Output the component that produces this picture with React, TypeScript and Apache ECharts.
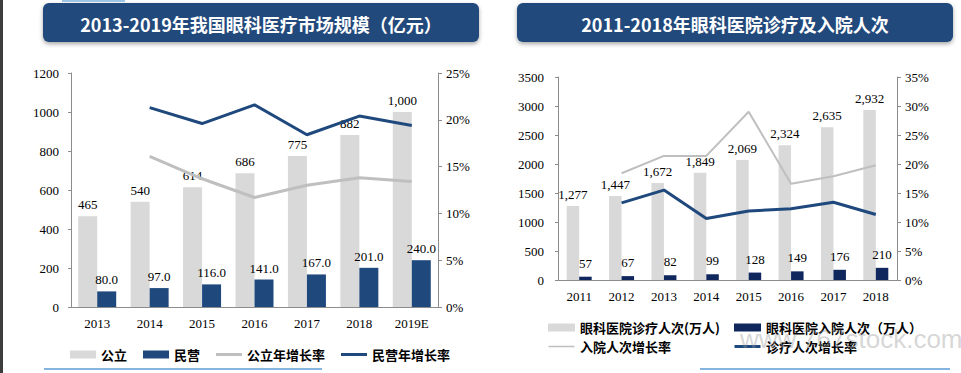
import React, { useEffect, useRef } from "react";
import * as echarts from "echarts";

const leftYears = ["2013", "2014", "2015", "2016", "2017", "2018", "2019E"];
const publicSize = [465, 540, 614, 686, 775, 882, 1000];
const privateSize = [80, 97, 116, 141, 167, 201, 240];
const publicGrowth = [null, 16.1, 13.7, 11.7, 13.0, 13.8, 13.4];
const privateGrowth = [null, 21.3, 19.6, 21.6, 18.4, 20.4, 19.4];

const rightYears = ["2011", "2012", "2013", "2014", "2015", "2016", "2017", "2018"];
const visits = [1277, 1447, 1672, 1849, 2069, 2324, 2635, 2932];
const admissions = [57, 67, 82, 99, 128, 149, 176, 210];
const admissionGrowth = [null, 18.4, 21.4, 21.4, 29.0, 16.6, 17.9, 19.8];
const visitGrowth = [null, 13.3, 15.5, 10.6, 11.9, 12.3, 13.4, 11.3];

const leftTitle = "2013-2019年我国眼科医疗市场规模（亿元）";
const rightTitle = "2011-2018年眼科医院诊疗及入院人次";

const N_PUBLIC = "公立";
const N_PRIVATE = "民营";
const N_PUBLIC_G = "公立年增长率";
const N_PRIVATE_G = "民营年增长率";
const N_VISITS = "眼科医院诊疗人次(万人)";
const N_ADM = "眼科医院入院人次（万人）";
const N_ADM_G = "入院人次增长率";
const N_VISIT_G = "诊疗人次增长率";

const SERIF = "'Liberation Serif', 'Times New Roman', serif";
const CJK = "'Noto Sans CJK SC', sans-serif";
const GRAY = "#d9d9d9";
const BLUE = "#1f497d";
const NAVY = "#10275e";
const LINEGRAY = "#bfbfbf";
const AXIS = "#8c8c8c";

const fmtComma = (v: number) => v.toString().replace(/\B(?=(\d{3})+(?!\d))/g, ",");
const lineIcon = (t: number) =>
  `path://M0,0L0,0M0,${4 - t / 2}L26,${4 - t / 2}L26,${4 + t / 2}L0,${4 + t / 2}ZM26,8L26,8`;

export default function App() {
  const ref = useRef<HTMLDivElement>(null);
  useEffect(() => {
    document.body.style.margin = "0";
    if (!ref.current) return;
    const chart = echarts.init(ref.current, null, { renderer: "svg" });

    const axisLabel = { fontFamily: SERIF, fontSize: 13, color: "#000" };
    const axisLine = { show: true, lineStyle: { color: AXIS, width: 1 } };
    const labelStyle = { show: true, position: "top", distance: 5, fontFamily: SERIF, fontSize: 13, color: "#000" };
    const legendText = { fontFamily: CJK, fontSize: 13, fontWeight: "bold", color: "#000" };

    const titleBox = (x: number, w: number, text: string) => [
      {
        type: "rect",
        shape: { x, y: 3, width: w, height: 39, r: 6 },
        style: { fill: "#21497c", shadowBlur: 4, shadowColor: "rgba(0,0,0,0.35)", shadowOffsetY: 2 },
        z: 10,
      },
      {
        type: "text",
        x: x + w / 2,
        y: 24,
        style: {
          text,
          fill: "#fff",
          font: `bold 18px ${CJK}`,
          textAlign: "center",
          textVerticalAlign: "middle",
        },
        z: 11,
      },
    ];

    chart.setOption({
      animation: false,
      backgroundColor: "#fff",
      grid: [
        { left: 71, right: 523, top: 73, bottom: 66 },
        { left: 558, right: 64, top: 77, bottom: 93 },
      ],
      xAxis: [
        {
          type: "category",
          gridIndex: 0,
          data: leftYears,
          axisLine,
          axisTick: { show: false },
          axisLabel: { ...axisLabel, margin: 10 },
        },
        {
          type: "category",
          gridIndex: 1,
          data: rightYears,
          axisLine,
          axisTick: { show: false },
          axisLabel: { ...axisLabel, margin: 10 },
        },
      ],
      yAxis: [
        {
          type: "value",
          gridIndex: 0,
          min: 0,
          max: 1200,
          interval: 200,
          axisLine,
          axisTick: { show: true, length: 3, lineStyle: { color: AXIS } },
          splitLine: { show: false },
          axisLabel: { ...axisLabel, margin: 12, formatter: (v: number) => String(v) },
        },
        {
          type: "value",
          gridIndex: 0,
          position: "right",
          min: 0,
          max: 25,
          interval: 5,
          axisLine,
          axisTick: { show: true, length: 4, lineStyle: { color: AXIS } },
          splitLine: { show: false },
          axisLabel: { ...axisLabel, margin: 8, formatter: "{value}%" },
        },
        {
          type: "value",
          gridIndex: 1,
          min: 0,
          max: 3500,
          interval: 500,
          axisLine,
          axisTick: { show: true, length: 3, lineStyle: { color: AXIS } },
          splitLine: { show: false },
          axisLabel: { ...axisLabel, margin: 14, formatter: (v: number) => String(v) },
        },
        {
          type: "value",
          gridIndex: 1,
          position: "right",
          min: 0,
          max: 35,
          interval: 5,
          axisLine,
          axisTick: { show: true, length: 4, lineStyle: { color: AXIS } },
          splitLine: { show: false },
          axisLabel: { ...axisLabel, margin: 8, formatter: "{value}%" },
        },
      ],
      legend: [
        {
          left: 65,
          top: 343,
          itemWidth: 26,
          itemHeight: 8,
          itemGap: 16,
          textStyle: legendText,
          data: [
            { name: N_PUBLIC, icon: "rect" },
            { name: N_PRIVATE, icon: "rect" },
            { name: N_PUBLIC_G, icon: lineIcon(3) },
            { name: N_PRIVATE_G, icon: lineIcon(3) },
          ],
        },
        {
          left: 543,
          top: 316,
          orient: "vertical",
          itemWidth: 27,
          itemHeight: 8,
          itemGap: 6,
          textStyle: legendText,
          data: [
            { name: N_VISITS, icon: "rect" },
            { name: N_ADM_G, icon: lineIcon(1.5) },
          ],
        },
        {
          left: 729,
          top: 316,
          orient: "vertical",
          itemWidth: 27,
          itemHeight: 8,
          itemGap: 6,
          textStyle: legendText,
          data: [
            { name: N_ADM, icon: "rect" },
            { name: N_VISIT_G, icon: lineIcon(3) },
          ],
        },
      ],
      series: [
        {
          name: N_PUBLIC,
          type: "bar",
          xAxisIndex: 0,
          yAxisIndex: 0,
          data: publicSize,
          barWidth: 19,
          barGap: "0%",
          itemStyle: { color: GRAY },
          label: { ...labelStyle, formatter: (p: any) => fmtComma(p.value) },
        },
        {
          name: N_PRIVATE,
          type: "bar",
          xAxisIndex: 0,
          yAxisIndex: 0,
          data: privateSize,
          barWidth: 19,
          barGap: "0%",
          itemStyle: { color: BLUE },
          label: { ...labelStyle, formatter: (p: any) => Number(p.value).toFixed(1) },
        },
        {
          name: N_PUBLIC_G,
          type: "line",
          xAxisIndex: 0,
          yAxisIndex: 1,
          data: publicGrowth,
          symbol: "none",
          lineStyle: { color: LINEGRAY, width: 3 },
          itemStyle: { color: LINEGRAY },
          z: 5,
        },
        {
          name: N_PRIVATE_G,
          type: "line",
          xAxisIndex: 0,
          yAxisIndex: 1,
          data: privateGrowth,
          symbol: "none",
          lineStyle: { color: BLUE, width: 3 },
          itemStyle: { color: BLUE },
          z: 5,
        },
        {
          name: N_VISITS,
          type: "bar",
          xAxisIndex: 1,
          yAxisIndex: 2,
          data: visits,
          barWidth: 12.5,
          barGap: "0%",
          itemStyle: { color: GRAY },
          label: { ...labelStyle, formatter: (p: any) => fmtComma(p.value) },
        },
        {
          name: N_ADM,
          type: "bar",
          xAxisIndex: 1,
          yAxisIndex: 2,
          data: admissions,
          barWidth: 12.5,
          barGap: "0%",
          itemStyle: { color: NAVY },
          label: { ...labelStyle, distance: 7, formatter: (p: any) => String(p.value) },
        },
        {
          name: N_ADM_G,
          type: "line",
          xAxisIndex: 1,
          yAxisIndex: 3,
          data: admissionGrowth,
          symbol: "none",
          lineStyle: { color: LINEGRAY, width: 2 },
          itemStyle: { color: LINEGRAY },
          z: 5,
        },
        {
          name: N_VISIT_G,
          type: "line",
          xAxisIndex: 1,
          yAxisIndex: 3,
          data: visitGrowth,
          symbol: "none",
          lineStyle: { color: BLUE, width: 3 },
          itemStyle: { color: BLUE },
          z: 5,
        },
      ],
      graphic: [
        { type: "rect", shape: { x: 0, y: 0, width: 3, height: 373 }, style: { fill: "#3d3d3d" }, z: 12 },
        { type: "rect", shape: { x: 62, y: 0, width: 63, height: 2 }, style: { fill: "#9dc3e6" }, z: 12 },
        ...titleBox(43, 436, leftTitle),
        ...titleBox(517, 436, rightTitle),
        { type: "line", shape: { x1: 44, y1: 369, x2: 322, y2: 369 }, style: { stroke: "#5b9bd5", lineWidth: 1.5 }, z: 12 },
        { type: "line", shape: { x1: 700, y1: 369, x2: 950, y2: 369 }, style: { stroke: "#5b9bd5", lineWidth: 1.5 }, z: 12 },
        {
          type: "text",
          x: 740,
          y: 339,
          silent: true,
          style: {
            text: "www.767stock.com",
            fill: "rgba(150,150,150,0.4)",
            font: "26px 'Liberation Sans', Arial, sans-serif",
            textAlign: "left",
            textVerticalAlign: "middle",
          },
          z: 20,
        },
      ],
    });
    return () => chart.dispose();
  }, []);
  return <div ref={ref} style={{ width: 961, height: 373 }} />;
}
